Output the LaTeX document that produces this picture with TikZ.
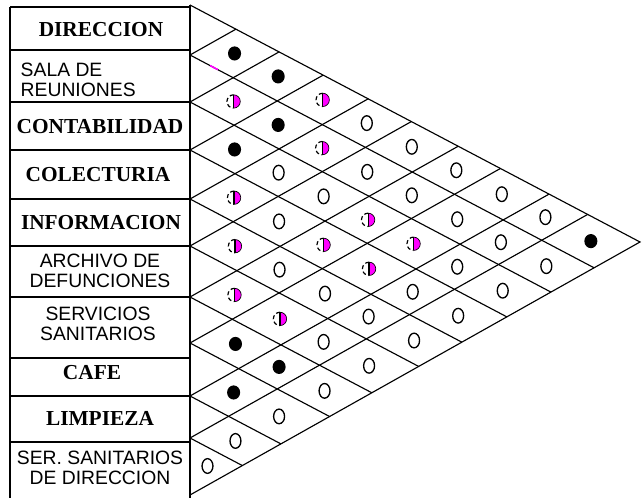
\documentclass[tikz,border=0pt]{standalone}
\usepackage{fontspec}
\setmainfont{Liberation Serif}
\setsansfont{Liberation Sans}
\usepackage{xcolor}
\definecolor{halfpink}{RGB}{255,0,255}

% row middles on the left edge of the chart (index 0 unused)
\def\rowmid{{0,30,78.5,126,174.5,222.5,271.5,320,369.5,417,466.5}}
\def\slopeD{0.52667}
\def\slopeU{0.56222}
\def\slopeS{1.08889}
% centre of the cell for rows #1 and #2 -> \cdx, \cdy
\newcommand\cellpos[2]{%
  \pgfmathsetmacro\mida{\rowmid[#1]}%
  \pgfmathsetmacro\midb{\rowmid[#2]}%
  \pgfmathsetmacro\cdx{(\midb-\mida)/\slopeS}%
  \pgfmathsetmacro\cdy{\mida+\slopeD*\cdx}}

\tikzset{
  grid line/.style={line width=0.85pt},
  box line/.style={line width=1.1pt},
  bold label/.style={font=\bfseries\fontsize{16}{18}\selectfont},
  plain label/.style={font=\sffamily\fontsize{14.5}{15}\selectfont, align=center},
  blackdot/.pic={\fill (0,0) ellipse [x radius=4.9pt, y radius=5.3pt];},
  opendot/.pic={\draw[line width=1pt] (0,0) ellipse [x radius=4.1pt, y radius=5.5pt];},
  halfdot/.pic={
    \fill[halfpink] (0,5pt) arc[start angle=90, end angle=-90, radius=5pt] -- cycle;
    \draw[line width=0.5pt] (0,5pt) arc[start angle=90, end angle=-90, radius=5pt];
    \draw[line width=0.9pt, densely dashed] (0,5pt) arc[start angle=90, end angle=270, radius=5pt];
    \draw[line width=1pt] (0,5pt) -- (0,-5pt);
  },
}

\begin{document}
\begin{tikzpicture}[x=0.75pt, y=-0.75pt]
  \useasboundingbox (0,0) rectangle (642,498);

  % label column
  \draw[box line] (10,7) -- (190,7);
  \draw[box line] (10,7) -- (10,498);
  \draw[box line] (190,5) -- (190,498);
  \foreach \b in {50,102,150,199,246,297,358,396,442}
    \draw[box line] (10,\b) -- (190,\b);

  \node[bold label] (direccion) at (101,30) {DIRECCION};
  \node[plain label, align=left, anchor=west] (sala) at (16,80) {SALA DE\\REUNIONES};
  \node[bold label] (contab) at (100,127) {CONTABILIDAD};
  \node[bold label] (colect) at (98,175) {COLECTURIA};
  \node[bold label] (info) at (101,223) {INFORMACION};
  \node[plain label] (archivo) at (100,271) {ARCHIVO DE\\DEFUNCIONES};
  \node[plain label] (servicios) at (98,324) {SERVICIOS\\SANITARIOS};
  \node[bold label] (cafe) at (92,373) {CAFE};
  \node[bold label] (limpieza) at (100,418) {LIMPIEZA};
  \node[plain label] (sersan) at (100,468) {SER. SANITARIOS\\DE DIRECCION};

  % triangle and grid
  \coordinate (top) at (190,5);
  \coordinate (apex) at (640,242);
  \coordinate (bot) at (190,495);
  \draw[grid line] (top) -- (apex) -- (bot);
  \foreach \v in {55,102,150,199,246,297,343,396,438} {
    \pgfmathsetmacro\ld{(495-\v)/\slopeS}
    \pgfmathsetmacro\lu{(\v-5)/\slopeS}
    \draw[grid line] (190,\v) -- ++(\ld,\slopeD*\ld);
    \draw[grid line] (190,\v) -- ++(\lu,-\slopeU*\lu);
  }
  \draw[halfpink, line width=1.2pt] (190,55) ++(20,20*\slopeD) -- ++(8,8*\slopeD);

  % relations
  \foreach \i/\j in {1/2,1/3,1/10,2/4,3/4,7/8,7/9,8/9} {
    \cellpos{\i}{\j}
    \pic at (190+\cdx,\cdy) {blackdot};
  }
  \foreach \i/\j in {1/4,2/3,2/5,3/7,3/8,4/5,4/7,4/8,5/6,6/7,6/8} {
    \cellpos{\i}{\j}
    \pic at (190+\cdx,\cdy) {halfdot};
  }
  \foreach \i/\j in {1/5,1/6,1/7,1/8,1/9,2/6,2/7,2/8,2/9,2/10,3/5,3/6,3/9,3/10,
                     4/6,4/9,4/10,5/7,5/8,5/9,5/10,6/9,6/10,7/10,8/10,9/10} {
    \cellpos{\i}{\j}
    \pic at (190+\cdx,\cdy) {opendot};
  }
  \pic at (207.5,466) {opendot};
\end{tikzpicture}
\end{document}
